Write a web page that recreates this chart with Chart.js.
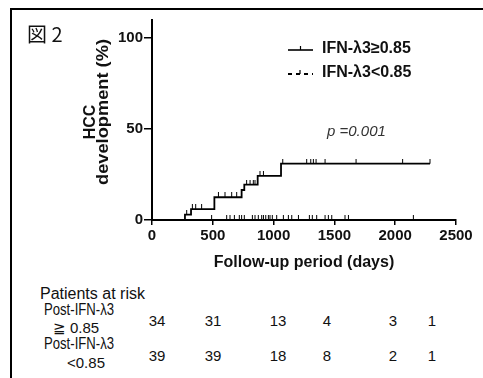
<!DOCTYPE html>
<html>
<head>
<meta charset="utf-8">
<script src="https://cdn.jsdelivr.net/npm/chart.js@4.4.0/dist/chart.umd.min.js"></script>
<style>
  html, body { margin: 0; padding: 0; background: #fff; }
  #fig {
    position: relative; width: 483px; height: 378px; overflow: hidden;
    background: #fff; color: #111;
    font-family: "Liberation Sans", Arial, sans-serif;
  }
  #frame {
    position: absolute; left: 10px; top: 8px; right: -10px; bottom: -10px;
    border-top: 2.5px solid #000; border-left: 2.5px solid #000;
  }
  #chartBox { position: absolute; left: 0; top: 0; width: 483px; height: 280px; }
  .t { position: absolute; white-space: nowrap; line-height: 1; }
  .c { transform: translate(-50%, -50%); }
  .m { transform: translateY(-50%); }
  .bold { font-weight: bold; }
  .legend { position: absolute; left: 288px; display: flex; align-items: center; font-weight: bold; font-size: 16px; }
  .legend svg { margin-right: 9px; }
</style>
</head>
<body>
<div id="fig">
  <div id="frame"></div>
  <div id="chartBox"><canvas id="kmChart"></canvas></div>
</div>
<script>
// --- datos (días / % HCC) ---
const xTicks = [0, 500, 1000, 1500, 2000, 2500];
const yTicks = [0, 50, 100];

// IFN-λ3 >= 0.85 : curva escalonada
const highDays   = [0, 271, 321, 513, 737, 759, 869, 1061, 2286];
const highValues = [0, 3, 6, 12.5, 16.5, 19.5, 24.3, 31, 31];
// censuras (marcas verticales)
const highCensorDays = [285, 332, 359, 408, 546, 600, 655, 696, 778, 806, 833, 847,
                        888, 916, 1075, 1272, 1305, 1327, 1349, 1423, 1678, 2061, 2286];

// IFN-λ3 < 0.85 : sin eventos
const lowDays   = [0, 2149];
const lowValues = [0, 0];
const lowCensorDays = [490, 614, 641, 677, 718, 737, 759, 825, 847, 874, 902, 916, 935,
                       957, 970, 989, 1025, 1080, 1121, 1149, 1204, 1294, 1318, 1354,
                       1423, 1450, 1478, 1587, 1615, 2149];

// pacientes en riesgo
const riskHeader = 'Patients at risk';
const riskHigh = [34, 31, 13, 4, 3, 1];
const riskLow  = [39, 39, 18, 8, 2, 1];

const legendHigh = 'IFN-λ3≥0.85';
const legendLow  = 'IFN-λ3<0.85';
const pText = '=0.001';

// --- helpers ---
function valueAt(days, values, d) {
  let v = values[0];
  for (let i = 0; i < days.length; i++) {
    if (days[i] <= d) v = values[i];
  }
  return v;
}

function toPoints(xs, ys) {
  return xs.map((x, i) => ({ x: x, y: ys[i] }));
}

// marca de censura: palito hacia arriba
function makeTick() {
  const c = document.createElement('canvas');
  c.width = 3; c.height = 10;
  const g = c.getContext('2d');
  g.fillStyle = '#000';
  g.fillRect(1, 0, 1, 5);
  return c;
}

function addText(html, x, y, cls, style) {
  const el = document.createElement('div');
  el.className = 't ' + (cls || '');
  el.innerHTML = html;
  el.style.left = x + 'px';
  el.style.top = y + 'px';
  if (style) Object.assign(el.style, style);
  document.getElementById('fig').appendChild(el);
  return el;
}

const FONT = '"Liberation Sans", Arial, sans-serif';
const tick = makeTick();

Chart.defaults.font.family = FONT;
Chart.defaults.color = '#111';

const highCensorPts = highCensorDays.map(d => ({ x: d, y: valueAt(highDays, highValues, d) }));
const lowCensorPts  = lowCensorDays.map(d => ({ x: d, y: valueAt(lowDays, lowValues, d) }));

new Chart(document.getElementById('kmChart'), {
  type: 'line',
  data: {
    datasets: [
      {
        label: legendHigh,
        data: toPoints(highDays, highValues),
        stepped: 'before',
        borderColor: '#000',
        borderWidth: 1.8,
        pointRadius: 0,
        fill: false
      },
      {
        label: legendLow,
        data: toPoints(lowDays, lowValues),
        stepped: 'before',
        borderColor: '#000',
        borderWidth: 1.5,
        borderDash: [4, 3],
        pointRadius: 0,
        fill: false
      },
      {
        label: 'censor-high',
        data: highCensorPts,
        showLine: false,
        pointStyle: tick,
        pointRadius: 3
      },
      {
        label: 'censor-low',
        data: lowCensorPts,
        showLine: false,
        pointStyle: tick,
        pointRadius: 3
      }
    ]
  },
  options: {
    responsive: true,
    maintainAspectRatio: false,
    animation: false,
    layout: { padding: { left: 0, top: 20, right: 27, bottom: 8 } },
    plugins: { legend: { display: false }, tooltip: { enabled: false } },
    scales: {
      x: {
        type: 'linear',
        min: 0, max: 2500,
        afterBuildTicks: s => { s.ticks = xTicks.map(v => ({ value: v })); },
        afterFit: s => { s.height = 52; s.paddingLeft = 0; s.paddingRight = 0; },
        ticks: {
          callback: v => String(v),
          font: { size: 15, weight: 'bold' },
          color: '#111',
          padding: 2,
          maxRotation: 0
        },
        grid: { drawOnChartArea: false, drawTicks: true, tickLength: 5, color: '#000', lineWidth: 1.5 },
        border: { display: true, color: '#000', width: 2 },
        title: {
          display: true,
          text: 'Follow-up period (days)',
          font: { size: 16, weight: 'bold' },
          color: '#111',
          padding: { top: 0, bottom: 0 }
        }
      },
      y: {
        min: 0, max: 110,
        afterBuildTicks: s => { s.ticks = yTicks.map(v => ({ value: v })); },
        afterFit: s => { s.width = 152; s.paddingTop = 0; s.paddingBottom = 0; },
        ticks: {
          callback: v => String(v),
          font: { size: 15, weight: 'bold' },
          color: '#111',
          padding: 1
        },
        grid: { drawOnChartArea: false, drawTicks: true, tickLength: 8, color: '#000', lineWidth: 1.5 },
        border: { display: true, color: '#000', width: 2 }
      }
    }
  }
});

// --- textos fuera del gráfico ---
addText('図 2', 27, 34, 'm', { fontFamily: '"Noto Sans CJK JP", sans-serif', fontSize: '20px' });

// título del eje Y (dos líneas, rotado)
addText('HCC', 90, 122, 'bold', { fontSize: '16px', transform: 'translate(-50%,-50%) rotate(-90deg)' });
addText('development (%)', 103, 112, 'bold', { fontSize: '16px', transform: 'translate(-50%,-50%) rotate(-90deg) scaleX(1.14)' });

// leyenda
const legSolid = '<svg width="25" height="10"><line x1="0" y1="7" x2="25" y2="7" stroke="#000" stroke-width="1.6"/>' +
                 '<line x1="12.5" y1="3" x2="12.5" y2="7" stroke="#000" stroke-width="1.2"/></svg>';
const legDash = '<svg width="25" height="10"><line x1="0" y1="7" x2="25" y2="7" stroke="#000" stroke-width="1.8" stroke-dasharray="4,4"/>' +
                '<line x1="12" y1="3" x2="12" y2="7" stroke="#000" stroke-width="1.2"/></svg>';
addText(legSolid + '<span>' + legendHigh + '</span>', 288, 48, 'legend m');
addText(legDash + '<span>' + legendLow + '</span>', 288, 72, 'legend m');

// valor p
addText('<i>p</i> <i>' + pText + '</i>', 327, 130, 'm', { fontSize: '15px', color: '#333', fontStyle: 'italic' });

// tabla de pacientes en riesgo
const colX = [157, 213, 278, 327, 393, 432];
addText(riskHeader, 40, 294, 'm', { fontSize: '16px' });
addText('Post-IFN-λ3', 79, 310, 'c', { fontSize: '16px', transform: 'translate(-50%,-50%) scaleX(0.82)' });
addText('≧ 0.85', 76, 327, 'c', { fontSize: '15px' });
addText('Post-IFN-λ3', 79, 344, 'c', { fontSize: '16px', transform: 'translate(-50%,-50%) scaleX(0.82)' });
addText('&lt;0.85', 86, 362, 'c', { fontSize: '15px' });
riskHigh.forEach((n, i) => addText(String(n), colX[i], 320, 'c', { fontSize: '15px' }));
riskLow.forEach((n, i) => addText(String(n), colX[i], 355, 'c', { fontSize: '15px' }));
</script>
</body>
</html>
